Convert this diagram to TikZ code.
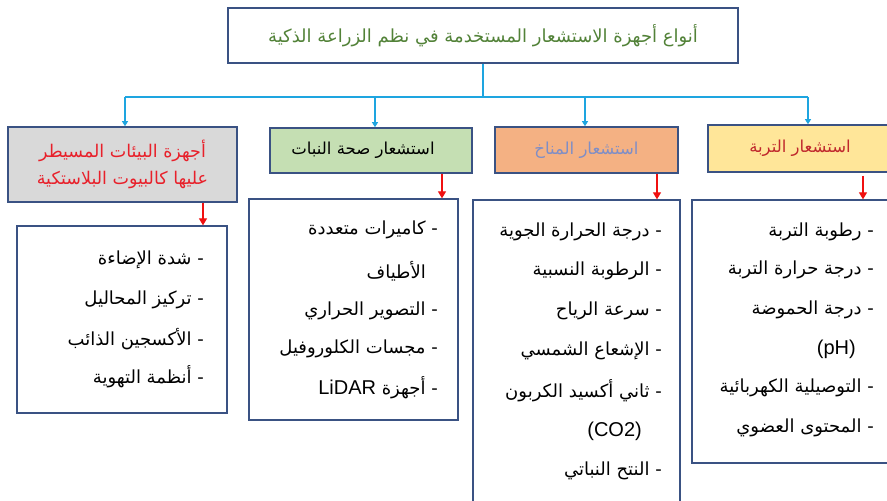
\documentclass[tikz,border=0pt]{standalone}
\usepackage{fontspec}
\usetikzlibrary{arrows.meta}
\TeXXeTstate=1
\newfontfamily\arabicfont[Script=Arabic]{DejaVu Sans}
\newfontfamily\latfont{Liberation Sans}
\newcommand\artx[1]{{\arabicfont\beginR #1\endR}}
\definecolor{tborder}{HTML}{3A5283}
\definecolor{ttext}{HTML}{528238}
\definecolor{bline}{HTML}{1EA5E0}
\definecolor{gA}{HTML}{D9D9D9}
\definecolor{gB}{HTML}{C5DFB3}
\definecolor{gC}{HTML}{F4B183}
\definecolor{gD}{HTML}{FFE699}
\definecolor{tA}{HTML}{E8202A}
\definecolor{tC}{HTML}{7F8EC6}
\definecolor{tD}{HTML}{C0282D}
\definecolor{rarr}{HTML}{F01010}
\tikzset{
  titlebox/.style={draw=tborder, line width=1.8pt, fill=white, inner sep=0pt, text=ttext, font=\fontsize{18}{22}\selectfont},
  hdr/.style={draw=tborder, line width=1.6pt, inner sep=0pt, align=center, font=\fontsize{16.5}{27}\selectfont},
  detail/.style={draw=tborder, line width=1.3pt, fill=white, inner sep=0pt},
  item/.style={anchor=east, inner sep=0pt, font=\fontsize{18}{22}\selectfont},
  latitem/.style={anchor=east, inner sep=0pt, font=\latfont\fontsize{20}{24}\selectfont},
  bluearr/.style={draw=bline, line width=1.1pt, -{Triangle[width=6pt,length=5pt]}},
  redarr/.style={draw=rarr, line width=1.1pt, -{Triangle[width=8pt,length=7pt]}},
}
\begin{document}
\begin{tikzpicture}[x=1pt,y=-1pt]
\clip (0,0) rectangle (887,501);
\fill[white] (0,0) rectangle (887,501);
% title
\node[titlebox, minimum width=510pt, minimum height=55pt] (t) at (483,35.5)
  {\artx{أنواع أجهزة الاستشعار المستخدمة في نظم الزراعة الذكية}};
% headers
\node[hdr, fill=gA, text=tA, minimum width=229pt, minimum height=75pt, font=\fontsize{17.5}{27}\selectfont] (h1) at (122.5,164.5)
  {\artx{أجهزة البيئات المسيطر}\\ \artx{عليها كالبيوت البلاستكية}};
\node[hdr, fill=gB, text=black, minimum width=202pt, minimum height=45pt] (h2) at (371,150.5)
  {\artx{استشعار صحة النبات}\hspace*{16pt}};
\node[hdr, fill=gC, text=tC, minimum width=183pt, minimum height=46pt] (h3) at (586.5,150)
  {\artx{استشعار المناخ}};
\node[hdr, fill=gD, text=tD, minimum width=184pt, minimum height=47pt] (h4) at (800,148.5)
  {\artx{استشعار التربة}};
% detail boxes
\node[detail, minimum width=210pt, minimum height=187pt] (d1) at (122,319.5) {};
\node[detail, minimum width=209pt, minimum height=221pt] (d2) at (353.5,309.5) {};
\node[detail, minimum width=207pt, minimum height=320pt] (d3) at (576.5,360) {};
\node[detail, minimum width=203pt, minimum height=263pt] (d4) at (793.5,331.5) {};
% blue connectors
\coordinate (bus) at (483,97);
\coordinate (busl) at (125,97);
\coordinate (busr) at (808,97);
\draw[draw=bline, line width=1.1pt] (t.south) -- (bus);
\draw[draw=bline, line width=1.1pt] (busl) -- (busr);
\draw[bluearr] (busl) -- (125,0 |- h1.north);
\draw[bluearr] (375,97) -- (375,0 |- h2.north);
\draw[bluearr] (585,97) -- (585,0 |- h3.north);
\draw[bluearr] (busr) -- (808,0 |- h4.north);
% red connectors
\draw[redarr] (203,0 |- h1.south) -- (203,0 |- d1.north);
\draw[redarr] (442,0 |- h2.south) -- (442,0 |- d2.north);
\draw[redarr] (657,0 |- h3.south) -- (657,0 |- d3.north);
\draw[redarr] ([yshift=-3pt]863,0 |- h4.south) -- (863,0 |- d4.north);
% list 1
\node[item] (a1) at (204,260) {\artx{- شدة الإضاءة}};
\node[item] (a2) at (204,300) {\artx{- تركيز المحاليل}};
\node[item] (a3) at (204,339) {\artx{- الأكسجين الذائب}};
\node[item] (a4) at (204,377) {\artx{- أنظمة التهوية}};
% list 2
\node[item] (b1) at (438,230) {\artx{- كاميرات متعددة}};
\node[item] (b2) at (426,271) {\artx{الأطياف}};
\node[item] (b3) at (438,311) {\artx{- التصوير الحراري}};
\node[item] (b4) at (438,349) {\artx{- مجسات الكلوروفيل}};
\node[item] (b5) at (438,388) {\artx{- أجهزة \beginL{\latfont\fontsize{20}{24}\selectfont LiDAR}\endL}};
% list 3
\node[item] (c1) at (662,232) {\artx{- درجة الحرارة الجوية}};
\node[item] (c2) at (662,271) {\artx{- الرطوبة النسبية}};
\node[item] (c3) at (662,311) {\artx{- سرعة الرياح}};
\node[item] (c4) at (662,351) {\artx{- الإشعاع الشمسي}};
\node[item] (c5) at (662,391) {\artx{- ثاني أكسيد الكربون}};
\node[latitem] (c6) at (642,431) {(CO2)};
\node[item] (c7) at (662,471) {\artx{- النتح النباتي}};
% list 4
\node[item] (e1) at (874,232) {\artx{- رطوبة التربة}};
\node[item] (e2) at (874,270) {\artx{- درجة حرارة التربة}};
\node[item] (e3) at (874,310) {\artx{- درجة الحموضة}};
\node[latitem] (e4) at (856,349) {(pH)};
\node[item] (e5) at (874,388) {\artx{- التوصيلية الكهربائية}};
\node[item] (e6) at (874,428) {\artx{- المحتوى العضوي}};
\end{tikzpicture}
\end{document}
